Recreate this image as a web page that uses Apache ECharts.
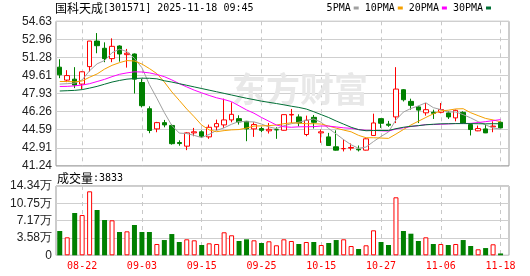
<!DOCTYPE html>
<html><head><meta charset="utf-8">
<script src="https://cdn.jsdelivr.net/npm/echarts@6/dist/echarts.min.js"></script>
<style>html,body{margin:0;padding:0;background:#fff}#c{width:530px;height:276px}</style>
</head><body><div id="c"></div>
<script>
const stockName = '国科天成';
const stockCode = '301571';
const timeStamp = '2025-11-18 09:45';
const dates = ['08-19','08-20','08-21','08-22','08-25','08-26','08-27','08-28','08-29','09-01','09-02','09-03','09-04','09-05','09-08','09-09','09-10','09-11','09-12','09-15','09-16','09-17','09-18','09-19','09-22','09-23','09-24','09-25','09-26','09-29','09-30','10-09','10-10','10-13','10-14','10-15','10-16','10-17','10-20','10-21','10-22','10-23','10-24','10-27','10-28','10-29','10-30','10-31','11-03','11-04','11-05','11-06','11-07','11-10','11-11','11-12','11-13','11-14','11-17','11-18'];
const opens = [50.38,49.18,49.27,48.81,50.43,52.80,52.13,51.17,52.34,51.54,51.60,48.96,46.53,44.66,45.24,44.98,43.40,43.06,44.29,44.39,43.92,44.85,45.03,45.49,45.61,45.36,44.66,44.69,44.48,44.58,44.53,45.95,45.77,44.14,45.73,44.29,43.92,43.00,42.83,42.88,42.78,42.69,44.05,45.61,45.10,45.77,48.29,47.21,46.70,46.15,46.20,46.20,46.14,45.68,46.19,45.06,44.48,44.66,44.85,45.27];
const closes = [49.67,49.60,48.72,49.95,52.80,52.37,51.17,52.31,51.60,51.67,49.27,46.81,44.51,45.24,45.03,43.29,43.30,44.29,44.39,43.98,44.81,45.15,45.49,46.01,45.31,44.66,45.06,44.53,44.62,44.58,45.98,46.00,45.21,45.46,45.27,44.39,43.12,42.69,42.83,42.94,42.72,43.74,45.21,45.18,45.00,48.35,47.36,46.84,46.40,46.44,46.10,46.45,45.77,46.38,45.21,44.60,44.69,44.29,44.92,44.75];
const lows = [49.36,48.99,48.44,48.35,49.97,51.67,50.84,50.84,50.89,50.34,47.94,46.65,44.26,44.35,44.81,43.20,43.10,42.69,43.98,43.83,43.74,44.53,44.75,45.27,45.06,43.52,43.92,44.35,44.23,43.74,44.50,45.21,44.90,43.98,44.69,43.37,43.10,42.65,42.57,42.66,42.57,42.66,44.00,44.75,44.85,45.20,47.20,46.44,45.20,45.89,45.58,46.10,45.58,45.36,45.20,44.05,44.45,44.27,44.35,44.72];
const highs = [51.12,50.10,50.38,50.00,52.80,53.54,52.68,53.05,52.40,52.07,51.65,49.30,46.75,45.31,45.49,45.10,43.60,44.35,44.75,44.53,45.06,45.52,47.46,47.12,45.92,45.40,45.27,44.85,45.20,44.81,46.00,46.51,46.01,45.89,45.95,44.60,44.29,44.53,43.68,43.31,43.12,43.80,46.07,45.64,45.40,50.38,48.35,47.46,46.80,47.06,46.44,47.06,46.29,46.45,46.29,45.21,44.97,45.06,45.36,45.36];
const volumes = [50300,37200,87500,83400,132400,93700,73000,72400,48200,49600,62700,48200,48200,23400,31600,44000,27500,33100,31000,21300,24800,23400,47600,41400,29600,33100,31000,25400,29000,20700,33100,29600,23400,27500,27500,21300,25400,31600,33100,19200,13000,20700,51700,27500,21300,120000,50300,44700,29600,37200,23400,23400,21300,23400,31600,19200,12400,15000,22800,3833];
const ma5 = [48.81,48.85,48.90,49.20,50.05,50.69,51.00,51.72,52.05,51.82,51.20,50.33,48.77,47.50,46.17,44.98,44.27,44.23,44.06,43.85,44.15,44.52,44.76,45.09,45.35,45.32,45.31,45.11,44.84,44.69,44.95,45.14,45.28,45.45,45.58,45.27,44.69,44.19,43.66,43.19,42.86,42.98,43.49,43.96,44.37,45.50,46.22,46.55,46.79,47.08,46.63,46.45,46.23,46.23,45.98,45.68,45.33,45.03,44.74,44.65];
const ma10 = [49.05,49.05,49.02,49.10,49.45,49.75,50.20,50.55,50.80,50.99,50.95,50.67,50.25,49.78,49.00,48.09,47.30,46.50,45.78,45.01,44.57,44.40,44.50,44.57,44.60,44.74,44.92,44.94,44.96,45.02,45.14,45.22,45.20,45.14,45.14,45.11,44.92,44.73,44.55,44.39,44.06,43.84,43.84,43.81,43.78,44.18,44.60,45.02,45.37,45.72,46.06,46.33,46.39,46.51,46.53,46.16,45.89,45.63,45.49,45.32];
const ma20 = [48.59,48.60,48.65,48.72,48.85,49.05,49.25,49.50,49.72,49.85,49.95,49.93,49.85,49.70,49.50,49.20,48.85,48.55,48.25,48.00,47.76,47.54,47.38,47.18,46.80,46.42,46.11,45.72,45.37,45.02,44.86,44.81,44.85,44.86,44.87,44.93,44.92,44.84,44.76,44.71,44.60,44.53,44.52,44.48,44.46,44.65,44.76,44.88,44.96,45.06,45.06,45.09,45.12,45.16,45.16,45.17,45.25,45.33,45.43,45.52];
const ma30 = [48.17,48.20,48.23,48.30,48.44,48.60,48.80,49.00,49.15,49.27,49.33,49.36,49.35,49.30,49.12,49.00,48.85,48.70,48.55,48.40,48.25,48.10,47.95,47.80,47.65,47.50,47.37,47.23,47.12,47.01,46.89,46.76,46.65,46.50,46.25,45.98,45.71,45.39,45.10,44.81,44.59,44.49,44.51,44.51,44.51,44.68,44.81,44.90,44.96,45.04,45.09,45.13,45.14,45.15,45.15,45.15,45.14,45.13,45.14,45.14];
const priceTicks = [41.24,42.91,44.59,46.26,47.93,49.61,51.28,52.96,54.63];
const volTicks = [0,35850,71700,107550,143400];
const volTickLabels = ['0','3.58万','7.17万','10.75万','14.34万'];
const maNames = ['5PMA','10PMA','20PMA','30PMA'];

const MONO = 'DejaVu Sans Mono';
const CJK = 'Noto Sans CJK SC';
const SANS = 'Liberation Sans';
const UP = '#ff0000', DOWN = '#008000';
const maColors = ['#a0a0a0','#f5a000','#ff00ff','#006f35'];

const candleData = dates.map((d, i) => [opens[i], closes[i], lows[i], highs[i]]);
const isUp = i => closes[i] >= opens[i];
const volUp = volumes.map((v, i) => isUp(i) ? v : '-');
const volDown = volumes.map((v, i) => isUp(i) ? '-' : v);
const maData = [ma5, ma10, ma20, ma30];

const L = 56, PW = 448.3, FW = 453, PT = 21.3, PH = 144.5, VT = 186, VH = 69.3;
const vSplit = {
  show: true, alignWithLabel: true,
  interval: (i) => i % 8 === 3,
  lineStyle: { color: '#c8c8c8', type: [4, 4], width: 1 }
};
const nearestIdx = (arr, v) => {
  let b = 0;
  arr.forEach((t, k) => { if (Math.abs(t - v) < Math.abs(arr[b] - v)) b = k; });
  return b;
};
const richText = {
  a: { fontFamily: CJK, fontSize: 12, color: '#000', fontWeight: 'normal' },
  b: { fontFamily: MONO, fontSize: 10, color: '#000', fontWeight: 'normal' }
};

const chart = echarts.init(document.getElementById('c'), null, { renderer: 'canvas' });
chart.setOption({
  animation: false,
  backgroundColor: '#fff',
  title: [
    {
      left: 55, top: 2, padding: 0,
      text: '{a|' + stockName + '}{b|[' + stockCode + '] ' + timeStamp + '}',
      textStyle: { fontWeight: 'normal', rich: richText }
    },
    {
      left: 57, top: 172, padding: 0,
      text: '{a|成交量}{b|:' + volumes[volumes.length - 1] + '}',
      textStyle: { fontWeight: 'normal', rich: richText }
    }
  ],
  legend: {
    data: maNames, right: 39, top: 3, padding: 0,
    icon: 'rect', itemWidth: 5, itemHeight: 3, itemGap: 6, align: 'right',
    selectedMode: false,
    textStyle: { fontFamily: MONO, fontSize: 10, color: '#000', padding: [0, -2, 0, 0] }
  },
  graphic: [{
    type: 'text', left: 232, top: 72, z: 1, silent: true,
    style: { text: '东方财富', font: 'bold 34px "Noto Sans CJK SC"', fill: '#e8e8e8' }
  }],
  grid: [
    { left: L, top: PT, width: PW, height: PH },
    { left: L, top: VT, width: PW, height: VH },
    { left: L, top: PT, width: FW, height: PH, show: true, borderColor: '#999', borderWidth: 1, backgroundColor: 'transparent' },
    { left: L, top: VT, width: FW, height: VH, show: true, borderColor: '#999', borderWidth: 1, backgroundColor: 'transparent' }
  ],
  xAxis: [
    { type: 'category', gridIndex: 0, data: dates, boundaryGap: true,
      axisLine: { show: false }, axisTick: { show: false }, axisLabel: { show: false }, splitLine: vSplit },
    { type: 'category', gridIndex: 1, data: dates, boundaryGap: true,
      axisLine: { show: false }, axisTick: { show: false },
      axisLabel: { interval: (i) => i % 8 === 3, color: UP, fontFamily: MONO, fontSize: 10, margin: 6 },
      splitLine: vSplit },
    { type: 'value', gridIndex: 2, show: false, min: 0, max: 1 },
    { type: 'value', gridIndex: 3, show: false, min: 0, max: 1 }
  ],
  yAxis: [
    { type: 'value', gridIndex: 0, min: priceTicks[0], max: priceTicks[priceTicks.length - 1], show: false, splitLine: { show: false } },
    { type: 'value', gridIndex: 1, min: 0, max: volTicks[volTicks.length - 1], show: false, splitLine: { show: false } },
    { type: 'value', gridIndex: 2, min: priceTicks[0], max: priceTicks[priceTicks.length - 1],
      axisLine: { show: false },
      axisTick: { show: false, customValues: priceTicks },
      axisLabel: { customValues: priceTicks, formatter: v => priceTicks[nearestIdx(priceTicks, v)].toFixed(2),
        fontFamily: SANS, fontSize: 12, color: '#222', margin: 4 },
      splitLine: { show: true, lineStyle: { color: '#cfcfcf', width: 1 } } },
    { type: 'value', gridIndex: 3, min: 0, max: volTicks[volTicks.length - 1], interval: volTicks[1],
      axisLine: { show: false }, axisTick: { show: false },
      axisLabel: { formatter: v => volTickLabels[nearestIdx(volTicks, v)],
        fontFamily: SANS, fontSize: 12, color: '#222', margin: 4 },
      splitLine: { show: true, lineStyle: { color: '#cfcfcf', width: 1 } } }
  ],
  series: [
    { type: 'candlestick', name: 'K', xAxisIndex: 0, yAxisIndex: 0, data: candleData, barWidth: 5,
      itemStyle: { color: '#fff', color0: DOWN, borderColor: UP, borderColor0: DOWN, borderWidth: 1 } },
    ...maNames.map((n, k) => ({
      type: 'line', name: n, xAxisIndex: 0, yAxisIndex: 0, data: maData[k],
      symbol: 'none', showSymbol: false, smooth: false, z: 3,
      lineStyle: { color: maColors[k], width: 1 }, itemStyle: { color: maColors[k] }
    })),
    { type: 'bar', name: 'volUp', xAxisIndex: 1, yAxisIndex: 1, stack: 'vol', data: volUp, barWidth: 5,
      itemStyle: { color: '#fff', borderColor: UP, borderWidth: 1 } },
    { type: 'bar', name: 'volDown', xAxisIndex: 1, yAxisIndex: 1, stack: 'vol', data: volDown, barWidth: 5,
      itemStyle: { color: DOWN } }
  ]
});
</script></body></html>
